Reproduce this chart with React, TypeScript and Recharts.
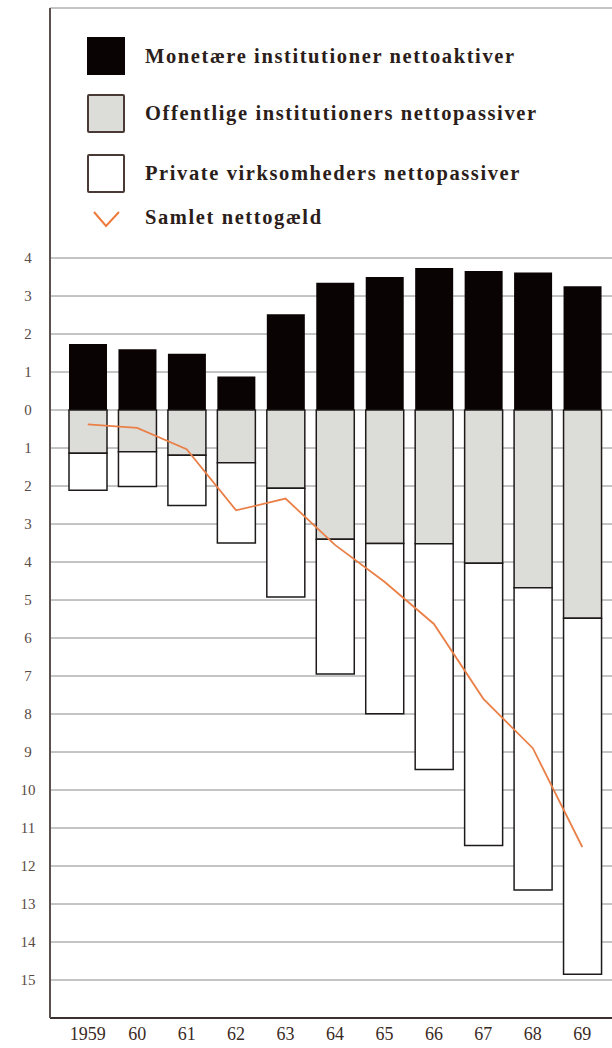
import { ComposedChart, Bar, Line, XAxis, YAxis, CartesianGrid } from 'recharts';

const years = ['1959', '60', '61', '62', '63', '64', '65', '66', '67', '68', '69'];
// milliarder kr.
const monetary = [1.74, 1.6, 1.48, 0.88, 2.52, 3.35, 3.5, 3.74, 3.66, 3.62, 3.26];
const publicDebt = [-1.14, -1.1, -1.19, -1.39, -2.06, -3.4, -3.51, -3.52, -4.03, -4.68, -5.48];
const privateDebt = [-0.97, -0.91, -1.32, -2.11, -2.86, -3.55, -4.48, -5.94, -7.43, -7.95, -9.37];
const netDebt = [-0.38, -0.47, -1.03, -2.64, -2.33, -3.55, -4.52, -5.63, -7.6, -8.9, -11.5];
const yTicks = [4, 3, 2, 1, 0, -1, -2, -3, -4, -5, -6, -7, -8, -9, -10, -11, -12, -13, -14, -15];

const legendItems = [
  { label: 'Monetære institutioner nettoaktiver', kind: 'black' },
  { label: 'Offentlige institutioners nettopassiver', kind: 'gray' },
  { label: 'Private virksomheders nettopassiver', kind: 'white' },
  { label: 'Samlet nettogæld', kind: 'line' },
];

const data = years.map((year, i) => ({
  year,
  monetary: monetary[i],
  public: publicDebt[i],
  private: privateDebt[i],
  net: netDebt[i],
}));

const textColor = '#2b1d1a';
const serif = '"Liberation Serif", "DejaVu Serif", serif';

function LegendBox() {
  const rows = [37, 94, 154, 198];
  return (
    <div style={{ position: 'absolute', left: 0, top: 0, width: 612, height: 240, pointerEvents: 'none' }}>
      {legendItems.map((item, i) => (
        <div key={item.label} style={{ position: 'absolute', left: 87, top: rows[i], display: 'flex', alignItems: 'center' }}>
          <div style={{ width: 38, height: 38, display: 'flex', alignItems: 'center', justifyContent: 'center' }}>
            {item.kind === 'line' ? (
              <svg width={38} height={38}>
                <polyline points="7,14 19,28 32,14" fill="none" stroke="#f07a3c" strokeWidth={2} />
              </svg>
            ) : (
              <div
                style={{
                  width: item.kind === 'black' ? 38 : 35,
                  height: item.kind === 'black' ? 38 : 35,
                  background: item.kind === 'black' ? '#0a0303' : item.kind === 'gray' ? '#dcdcd8' : '#fff',
                  border: item.kind === 'black' ? 'none' : '2px solid #4a3a36',
                  borderRadius: item.kind === 'black' ? 0 : 2,
                }}
              />
            )}
          </div>
          <span
            style={{
              marginLeft: 20,
              fontFamily: serif,
              fontWeight: 'bold',
              fontSize: 20.5,
              letterSpacing: 1.6,
              color: textColor,
              whiteSpace: 'nowrap',
            }}
          >
            {item.label}
          </span>
        </div>
      ))}
    </div>
  );
}

const YTick = (props: any) => {
  const { y, payload } = props;
  return (
    <text x={28} y={y} dy={5} textAnchor="middle" fontFamily={serif} fontSize={15} fill="#5a4a45">
      {Math.abs(payload.value)}
    </text>
  );
};

const XTick = (props: any) => {
  const { x, y, payload } = props;
  return (
    <text x={x} y={y} dy={14} textAnchor="middle" fontFamily={serif} fontSize={18} fill="#3a2a25">
      {payload.value}
    </text>
  );
};

export default function App() {
  return (
    <div style={{ position: 'absolute', left: 0, top: 0, width: 612, height: 1048, background: '#fff' }}>
      <ComposedChart
        width={612}
        height={1048}
        data={data}
        stackOffset="sign"
        barSize={38}
        margin={{ top: 8, right: 0, bottom: 0, left: 0 }}
      >
        <CartesianGrid horizontal vertical={false} stroke="#8a8a8a" strokeWidth={1} />
        <XAxis
          dataKey="year"
          height={30}
          padding={{ left: 13, right: 5 }}
          tickLine={false}
          axisLine={{ stroke: '#3a3030', strokeWidth: 2 }}
          tick={<XTick />}
          interval={0}
        />
        <YAxis
          type="number"
          width={50}
          domain={[-16, 10.58]}
          ticks={yTicks}
          interval={0}
          tickLine={false}
          axisLine={{ stroke: '#5a5050', strokeWidth: 2 }}
          tick={<YTick />}
        />
        <Bar dataKey="monetary" stackId="a" fill="#0a0303" isAnimationActive={false} />
        <Bar dataKey="public" stackId="a" fill="#dcdcd8" stroke="#1e1a1a" strokeWidth={1.5} isAnimationActive={false} />
        <Bar dataKey="private" stackId="a" fill="#ffffff" stroke="#1e1a1a" strokeWidth={1.5} isAnimationActive={false} />
        <Line
          dataKey="net"
          type="linear"
          stroke="#ea8048"
          strokeWidth={1.8}
          dot={false}
          activeDot={false}
          isAnimationActive={false}
        />
      </ComposedChart>
      <LegendBox />
    </div>
  );
}
